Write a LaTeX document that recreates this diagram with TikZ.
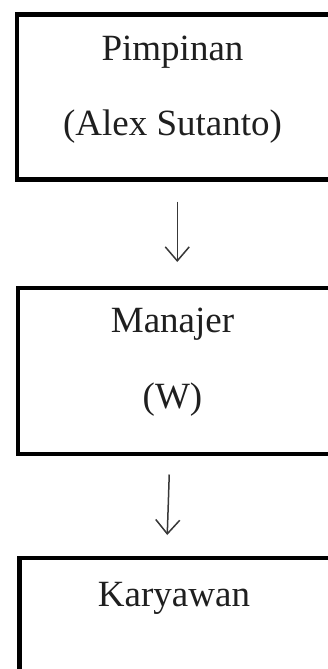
\documentclass[tikz,border=0pt]{standalone}
\usepackage{fontspec}
\setmainfont{Liberation Serif}
\usetikzlibrary{arrows.meta}
\begin{document}
\begin{tikzpicture}[x=1pt,y=1pt,
  box/.style={draw=black, line width=4.5pt, minimum width=316pt, inner sep=0pt, anchor=north west},
  lbl/.style={anchor=base, font=\fontsize{37}{44}\selectfont, text=black!88, inner sep=0pt},
  arr/.style={draw=black!78, line width=1.5pt, -{Straight Barb[length=14pt,width=24pt,line width=1.5pt]}}]
\useasboundingbox (0,0) rectangle (328,-669);
\clip (0,0) rectangle (328,-669);
\node[box, minimum height=164.5pt] (b1) at (14.5,-12.5) {};
\node[box, minimum height=166pt] (b2) at (15.5,-285.5) {};
\node[box, minimum height=170pt] (b3) at (17,-555.5) {};
\node[lbl] (t1) at (172.5,-60) {Pimpinan};
\node[lbl] (t2) at (172.5,-135) {(Alex Sutanto)};
\node[lbl] (t3) at (172.5,-332) {Manajer};
\node[lbl] (t4) at (172.5,-408) {(W)};
\node[lbl] (t5) at (174,-606) {Karyawan};
\draw[arr] ([xshift=2.5pt,yshift=-20pt]b1.south) -- ([xshift=1.5pt,yshift=23.5pt]b2.north);
\draw[arr] ([xshift=-6.5pt,yshift=-18.5pt]b2.south) -- ([xshift=-10pt,yshift=20.5pt]b3.north);
\end{tikzpicture}
\end{document}
